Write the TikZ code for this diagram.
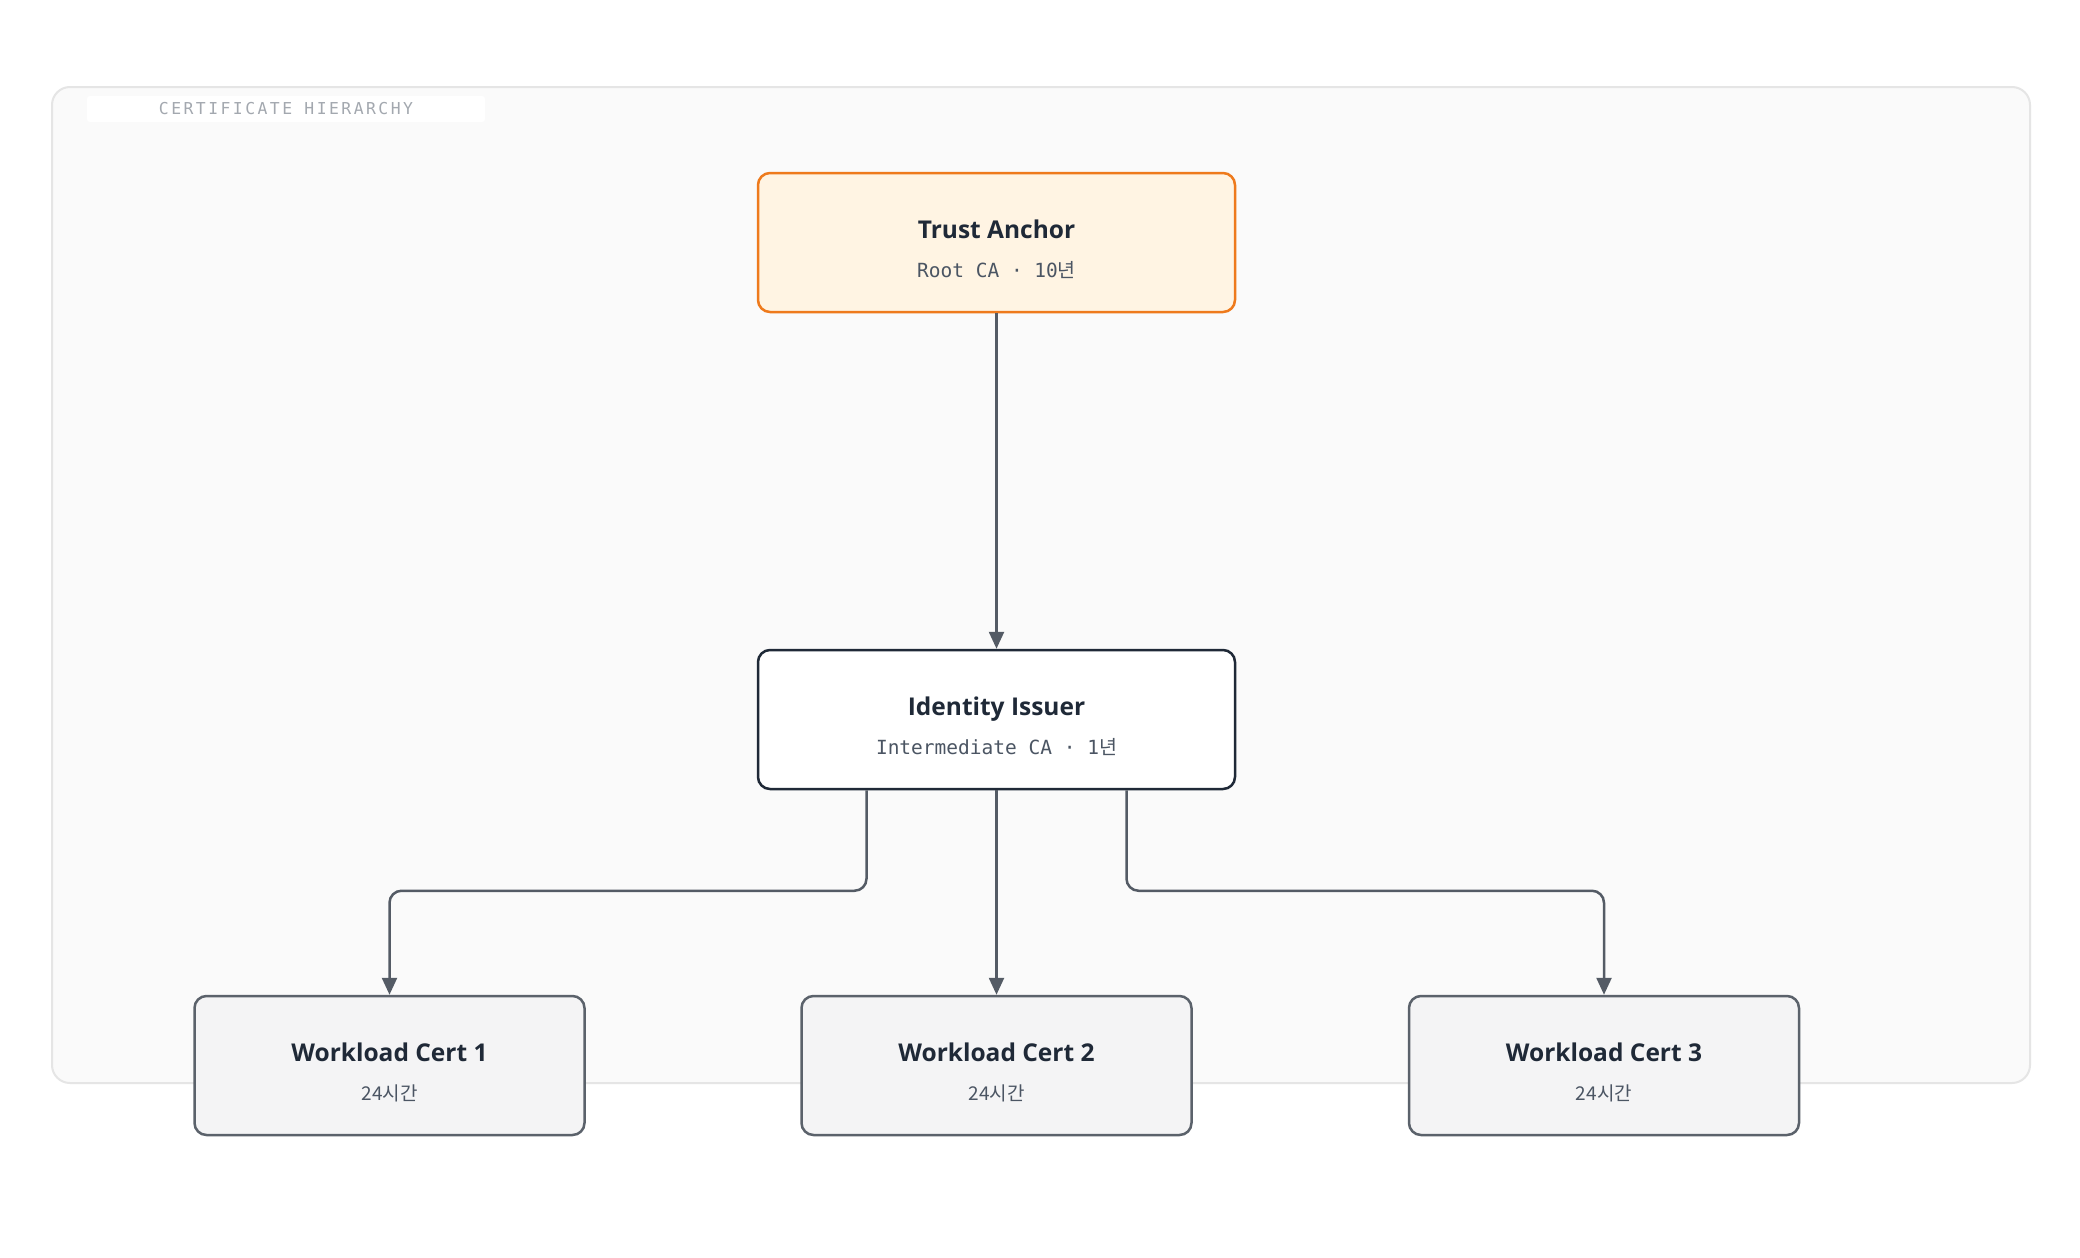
\documentclass[tikz,border=0pt]{standalone}
\usepackage{fontspec}
\setmainfont{Noto Sans}
\newfontfamily\headfont{Open Sans}
\newfontfamily\monofont{DejaVu Sans Mono}
\newfontfamily\capsfont{DejaVu Sans Mono}[LetterSpace=15]
\newfontfamily\krfont{Noto Sans CJK KR}
\usepackage{tikz}
\usetikzlibrary{positioning, arrows.meta, calc}
\definecolor{inkdark}{HTML}{1F2937}
\definecolor{inkmid}{HTML}{4B5563}
\definecolor{linkgray}{HTML}{545B65}
\definecolor{leafedge}{HTML}{5B626B}
\definecolor{leaffill}{HTML}{F4F4F5}
\definecolor{rootfill}{HTML}{FFF4E3}
\definecolor{rootedge}{HTML}{EE7A1C}
\definecolor{panelfill}{HTML}{FAFAFA}
\definecolor{paneledge}{HTML}{E5E5E5}
\definecolor{captext}{HTML}{A3A8AF}

\begin{document}
\begin{tikzpicture}[x=1pt,y=-1pt,>={Triangle[length=17pt,width=15pt]},
    certbox/.style={draw,rounded corners=12pt,line width=2.5pt,minimum width=477pt,
                minimum height=139pt,inner sep=0pt},
    rootbox/.style={certbox,draw=rootedge,fill=rootfill},
    issuerbox/.style={certbox,draw=inkdark,fill=white},
    leafbox/.style={certbox,draw=leafedge,fill=leaffill,minimum width=390pt},
    title/.style={anchor=base,text=inkdark,font=\headfont\fontsize{24.5}{30}\selectfont\bfseries},
    sub/.style={anchor=base,text=inkmid,font=\monofont\fontsize{19.5}{24}\selectfont},
    leafsub/.style={anchor=base,text=inkmid,font=\krfont\fontsize{19}{24}\selectfont},
    link/.style={->,draw=linkgray,line width=2.5pt,rounded corners=12pt}]
    \fill[white] (0,0) rectangle (2080,1258);
    \useasboundingbox (0,0) rectangle (2080,1258);
    % frame and caption
    \node[draw=paneledge,fill=panelfill,line width=2pt,rounded corners=18pt,
        minimum width=1978pt,minimum height=996pt] (panel) at (1041,585) {};
    \node[fill=white,rounded corners=3pt,minimum width=398pt,minimum height=26pt,inner sep=0pt,
        text=captext,font=\capsfont\fontsize{16.4}{16}\selectfont] (caption) at (286,109)
        {CERTIFICATE HIERARCHY};
    % certificates
    \node[rootbox] (root) at (996.5,242.5) {};
    \node[title] (root-title) at ($(root.center)+(0,-4)$) {Trust Anchor};
    \node[sub] (root-sub) at ($(root.center)+(0,35)$) {Root CA · 10{\krfont 년}};
    \node[issuerbox] (issuer) at (996.5,719.5) {};
    \node[title] (issuer-title) at ($(issuer.center)+(0,-4)$) {Identity Issuer};
    \node[sub] (issuer-sub) at ($(issuer.center)+(0,35)$) {Intermediate CA · 1{\krfont 년}};
    \foreach \i/\x in {1/389.5,2/996.5,3/1604}{
        \node[leafbox] (wc\i) at (\x,1065.5) {};
        \node[title] (wc\i-title) at ($(wc\i.center)+(0,-4)$) {Workload Cert \i};
        \node[leafsub] (wc\i-sub) at ($(wc\i.center)+(0,35)$) {24시간};
    }
    % links
    \draw[link] (root.south) -- (issuer.north);
    \draw[link] (issuer.south) -- (wc2.north);
    \draw[link] ([xshift=-130pt]issuer.south) |- ([yshift=104pt]wc1.north) -- (wc1.north);
    \draw[link] ([xshift=130pt]issuer.south) |- ([yshift=104pt]wc3.north) -- (wc3.north);
\end{tikzpicture}
\end{document}
